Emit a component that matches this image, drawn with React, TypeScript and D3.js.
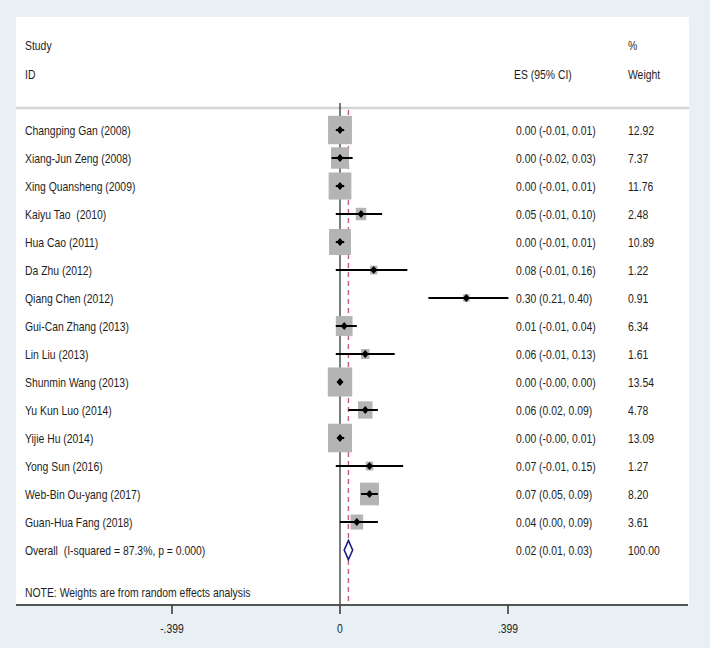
import React from "react";
import * as d3 from "d3";

const studies = [
  "Changping Gan (2008)",
  "Xiang-Jun Zeng (2008)",
  "Xing Quansheng (2009)",
  "Kaiyu Tao  (2010)",
  "Hua Cao (2011)",
  "Da Zhu (2012)",
  "Qiang Chen (2012)",
  "Gui-Can Zhang (2013)",
  "Lin Liu (2013)",
  "Shunmin Wang (2013)",
  "Yu Kun Luo (2014)",
  "Yijie Hu (2014)",
  "Yong Sun (2016)",
  "Web-Bin Ou-yang (2017)",
  "Guan-Hua Fang (2018)",
];
const es = [0.0, 0.0, 0.0, 0.05, 0.0, 0.08, 0.3, 0.01, 0.06, 0.0, 0.06, 0.0, 0.07, 0.07, 0.04];
const lo = [-0.01, -0.02, -0.01, -0.01, -0.01, -0.01, 0.21, -0.01, -0.01, -0.0, 0.02, -0.0, -0.01, 0.05, 0.0];
const hi = [0.01, 0.03, 0.01, 0.1, 0.01, 0.16, 0.4, 0.04, 0.13, 0.0, 0.09, 0.01, 0.15, 0.09, 0.09];
const weights = [12.92, 7.37, 11.76, 2.48, 10.89, 1.22, 0.91, 6.34, 1.61, 13.54, 4.78, 13.09, 1.27, 8.2, 3.61];
const overallLabel = "Overall  (I-squared = 87.3%, p = 0.000)";
const overall = { es: 0.02, lo: 0.01, hi: 0.03, weight: 100.0 };
const tickValues = [-0.399, 0, 0.399];
const tickLabels = ["-.399", "0", ".399"];
const noteText = "NOTE: Weights are from random effects analysis";

const fmt = (v: number) => {
  const s = d3.format(".2f")(Math.abs(v));
  return (v < 0 || Object.is(v, -0) ? "-" : "") + s;
};
const ciText = (e: number, l: number, h: number) =>
  `${fmt(e)} (${fmt(l)}, ${fmt(h)})`;

const SX = 0.8;
const FONT = "'Liberation Sans', Arial, sans-serif";

function T({ x, y, children, anchor = "start", fill = "#1e1e1e" }: any) {
  return (
    <text
      transform={`translate(${x},${y}) scale(${SX},1)`}
      fontFamily={FONT}
      fontSize={13}
      fill={fill}
      textAnchor={anchor}
      dy="0.36em"
      style={{ whiteSpace: "pre" }}
    >
      {children}
    </text>
  );
}

export default function App() {
  const W = 710;
  const H = 648;
  const x = d3.scaleLinear().domain([-0.399, 0.399]).range([172, 508]);
  const rowY = d3
    .scaleLinear()
    .domain([0, 1])
    .range([130, 158]);
  const size = d3.scaleSqrt().domain([0, 1]).range([0, 7.9]);

  const panelL = 16, panelR = 689, panelT = 17, axisY = 605;
  const sepY = 108;
  const labelX = 25, ciX = 516, wX = 628;
  const nRows = studies.length;
  const ovY = rowY(nRows);

  return (
    <svg
      width={W}
      height={H}
      style={{ position: "absolute", left: 0, top: 0 }}
    >
      <rect x={0} y={0} width={W} height={H} fill="#e8f0f3" />
      <rect x={panelL} y={panelT} width={panelR - panelL} height={axisY - panelT} fill="#ffffff" />
      <line x1={panelL} x2={panelR} y1={sepY} y2={sepY} stroke="#d4d4d4" strokeWidth={2.5} />

      <T x={labelX} y={45}>Study</T>
      <T x={labelX} y={74}>ID</T>
      <T x={ciX - 2} y={74}>ES (95% CI)</T>
      <T x={wX} y={45}>%</T>
      <T x={wX} y={74}>Weight</T>

      {/* zero line */}
      <line x1={x(0)} x2={x(0)} y1={103} y2={axisY} stroke="#222" strokeWidth={1.2} />
      {/* overall dashed line */}
      <line
        x1={x(overall.es)}
        x2={x(overall.es)}
        y1={sepY + 2}
        y2={axisY}
        stroke="#c85c78"
        strokeWidth={1.4}
        strokeDasharray="5,4"
      />

      {studies.map((s, i) => {
        const y = rowY(i);
        const h = size(weights[i]);
        const w = h * 0.84;
        const cx = x(es[i]);
        return (
          <g key={s}>
            <rect x={cx - w / 2} y={y - h / 2} width={w} height={h} fill="#b4b4b4" />
            <line x1={x(lo[i])} x2={x(hi[i])} y1={y} y2={y} stroke="#000" strokeWidth={2} />
            <path
              d={`M${cx - 3.5},${y} L${cx},${y - 4} L${cx + 3.5},${y} L${cx},${y + 4} Z`}
              fill="#000"
            />
            <T x={labelX} y={y}>{s}</T>
            <T x={ciX} y={y}>{ciText(es[i], lo[i], hi[i])}</T>
            <T x={wX} y={y}>{d3.format(".2f")(weights[i])}</T>
          </g>
        );
      })}

      <path
        d={`M${x(overall.lo)},${ovY} L${x(overall.es)},${ovY - 9.5} L${x(overall.hi)},${ovY} L${x(overall.es)},${ovY + 9.5} Z`}
        fill="#fff"
        stroke="#1c1c84"
        strokeWidth={1.6}
      />
      <T x={labelX} y={ovY}>{overallLabel}</T>
      <T x={ciX} y={ovY}>{ciText(overall.es, overall.lo, overall.hi)}</T>
      <T x={wX} y={ovY}>{d3.format(".2f")(overall.weight)}</T>

      <T x={labelX} y={592}>{noteText}</T>

      {/* axis */}
      <line x1={panelL} x2={panelR - 1} y1={axisY} y2={axisY} stroke="#555" strokeWidth={2} />
      {tickValues.map((t, i) => (
        <g key={t}>
          <line x1={x(t)} x2={x(t)} y1={axisY} y2={axisY + 9} stroke="#333" strokeWidth={1.5} />
          <T x={x(t)} y={628} anchor="middle">{tickLabels[i]}</T>
        </g>
      ))}
    </svg>
  );
}
